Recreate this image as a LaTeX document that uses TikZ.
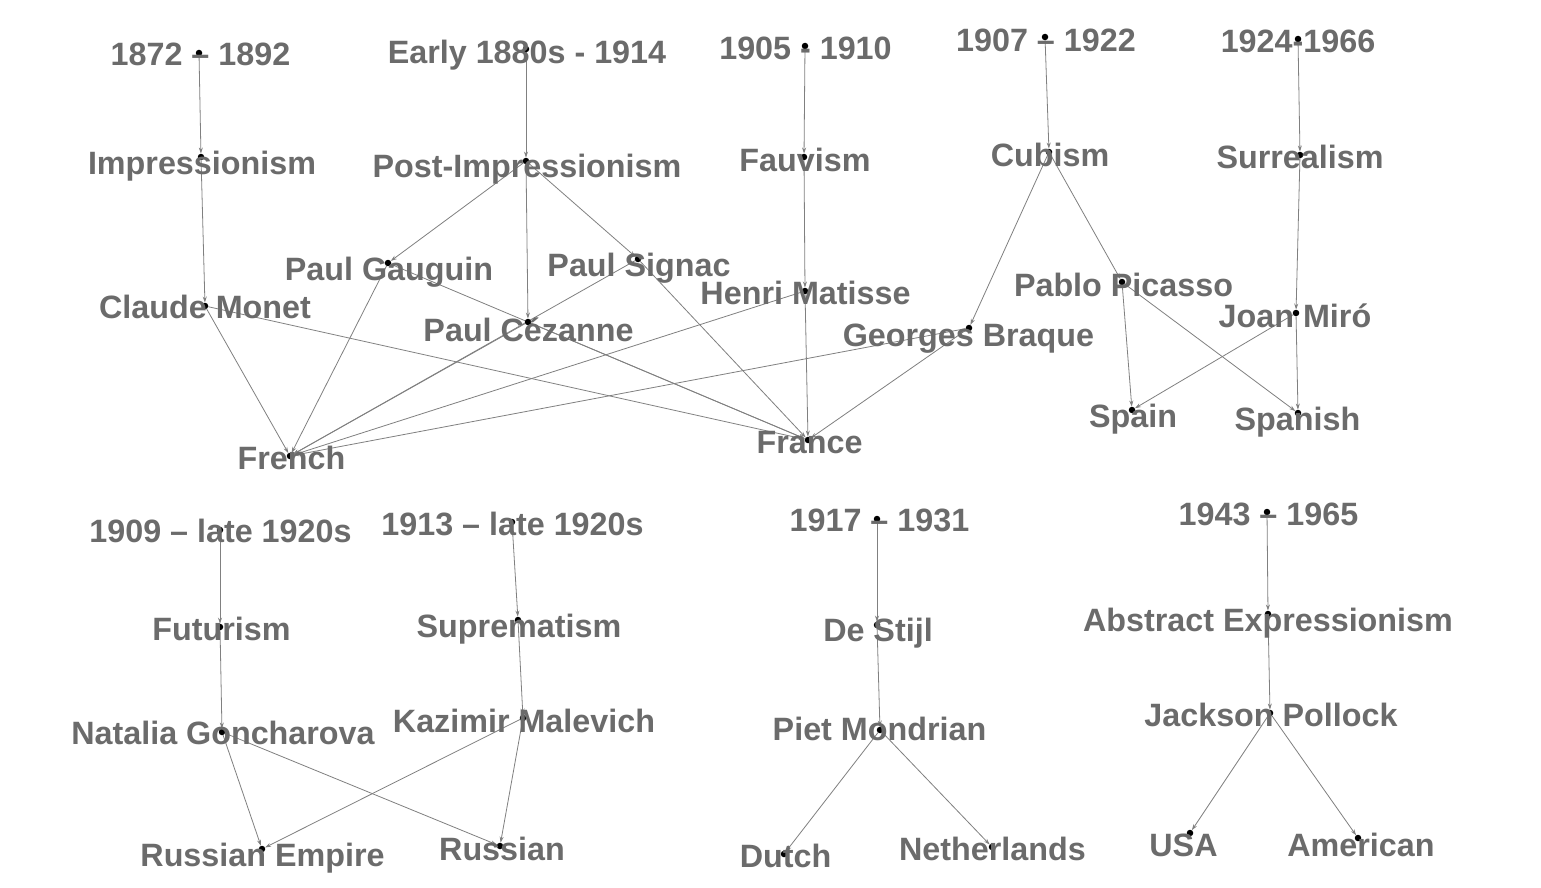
\documentclass[tikz,border=0pt]{standalone}
\usepackage{fontspec}
\setmainfont{Liberation Sans}
\usetikzlibrary{arrows.meta}
\definecolor{labelgray}{HTML}{6B6B6B}
\definecolor{edgegray}{HTML}{808080}
\pgfdeclarelayer{back}
\pgfdeclarelayer{edges}
\pgfdeclarelayer{fg}
\pgfsetlayers{back,edges,main,fg}
\newcommand\mkgn[4]{%
  \node[dot] (#1) at (#2) {};
  \begin{pgfonlayer}{fg}\node[lbl] (#1-l) at (#3) {#4};\end{pgfonlayer}}
\begin{document}
\begin{tikzpicture}[x=1pt,y=-1pt,
  dot/.style={circle,fill=black,inner sep=0pt,minimum size=6.5pt},
  lbl/.style={font=\fontsize{32.3}{38}\selectfont\bfseries,text=labelgray,inner sep=0pt,text height=0.72em,text depth=0pt,anchor=center,yshift=-8pt},
  edge/.style={draw=edgegray,line width=0.8pt,-{Stealth[length=6pt,width=4pt]}}]
\begin{pgfonlayer}{back}
\fill[white] (0,0) rectangle (1541,888);
\end{pgfonlayer}
\useasboundingbox (0,0) rectangle (1541,888);
% dates
\mkgn{d1}{199,53}{200.5,54}{1872 – 1892}
\mkgn{d2}{526,49}{527,52}{Early 1880s - 1914}
\mkgn{d3}{805,46}{805.5,48}{1905 - 1910}
\mkgn{d4}{1045,37}{1046,40}{1907 – 1922}
\mkgn{d5}{1298,39}{1298,41}{1924-1966}
\mkgn{d6}{220,530}{220.5,531}{1909 – late 1920s}
\mkgn{d7}{512,522}{512.5,524}{1913 – late 1920s}
\mkgn{d8}{877,519}{879.5,520}{1917 – 1931}
\mkgn{d9}{1267,512}{1268.5,514}{1943 – 1965}
% movements
\mkgn{imp}{201,157}{202,163}{Impressionism}
\mkgn{pim}{526,161}{527,166}{Post-Impressionism}
\mkgn{fau}{804,157}{805,160}{Fauvism}
\mkgn{cub}{1049,152}{1050,155}{Cubism}
\mkgn{sur}{1300,155}{1300,157}{Surrealism}
\mkgn{fut}{220,627}{221.5,629}{Futurism}
\mkgn{sup}{518,620}{519,626}{Suprematism}
\mkgn{dst}{877,625}{878,630}{De Stijl}
\mkgn{abx}{1268,614}{1268,620}{Abstract Expressionism}
% artists
\mkgn{mon}{205,306}{205,307}{Claude Monet}
\mkgn{gau}{388,263}{389,269}{Paul Gauguin}
\mkgn{sig}{638,259}{639,265}{Paul Signac}
\mkgn{cez}{528,322}{528.5,330}{Paul Cézanne}
\mkgn{mat}{805,291}{805.5,293}{Henri Matisse}
\mkgn{bra}{969,328}{968.5,335}{Georges Braque}
\mkgn{pic}{1122,282}{1123.5,285}{Pablo Picasso}
\mkgn{mir}{1296,313}{1295,316}{Joan Miró}
\mkgn{gon}{222,732}{223,733}{Natalia Goncharova}
\mkgn{mal}{523,718}{524,721}{Kazimir Malevich}
\mkgn{mond}{880,730}{879.5,729}{Piet Mondrian}
\mkgn{pol}{1270,713}{1271,715}{Jackson Pollock}
% countries / nationalities
\mkgn{fre}{290,456}{291.5,458}{French}
\mkgn{fra}{808,440}{809.5,442}{France}
\mkgn{spa}{1132,410}{1133,416}{Spain}
\mkgn{sph}{1298,413}{1297.5,419}{Spanish}
\mkgn{rue}{262,849}{262.5,855}{Russian Empire}
\mkgn{rus}{500,846}{502,849}{Russian}
\mkgn{dut}{784,854}{785.5,856}{Dutch}
\mkgn{net}{992,847}{992.5,849}{Netherlands}
\mkgn{usa}{1190,833}{1183.5,845}{USA}
\mkgn{ame}{1358,838}{1361,845}{American}
\begin{pgfonlayer}{edges}
\foreach \a/\b in {d1/imp,d2/pim,d3/fau,d4/cub,d5/sur,d6/fut,d7/sup,d8/dst,d9/abx,
  imp/mon,pim/gau,pim/cez,pim/sig,fau/mat,cub/bra,cub/pic,sur/mir,
  fut/gon,sup/mal,dst/mond,abx/pol,
  mon/fre,mon/fra,gau/fre,gau/fra,cez/fre,cez/fra,sig/fre,sig/fra,mat/fre,mat/fra,bra/fre,bra/fra,
  pic/spa,pic/sph,mir/spa,mir/sph,gon/rue,gon/rus,mal/rue,mal/rus,mond/dut,mond/net,pol/usa,pol/ame}
  {\draw[edge] (\a) -- (\b);}
\end{pgfonlayer}
\end{tikzpicture}
\end{document}
